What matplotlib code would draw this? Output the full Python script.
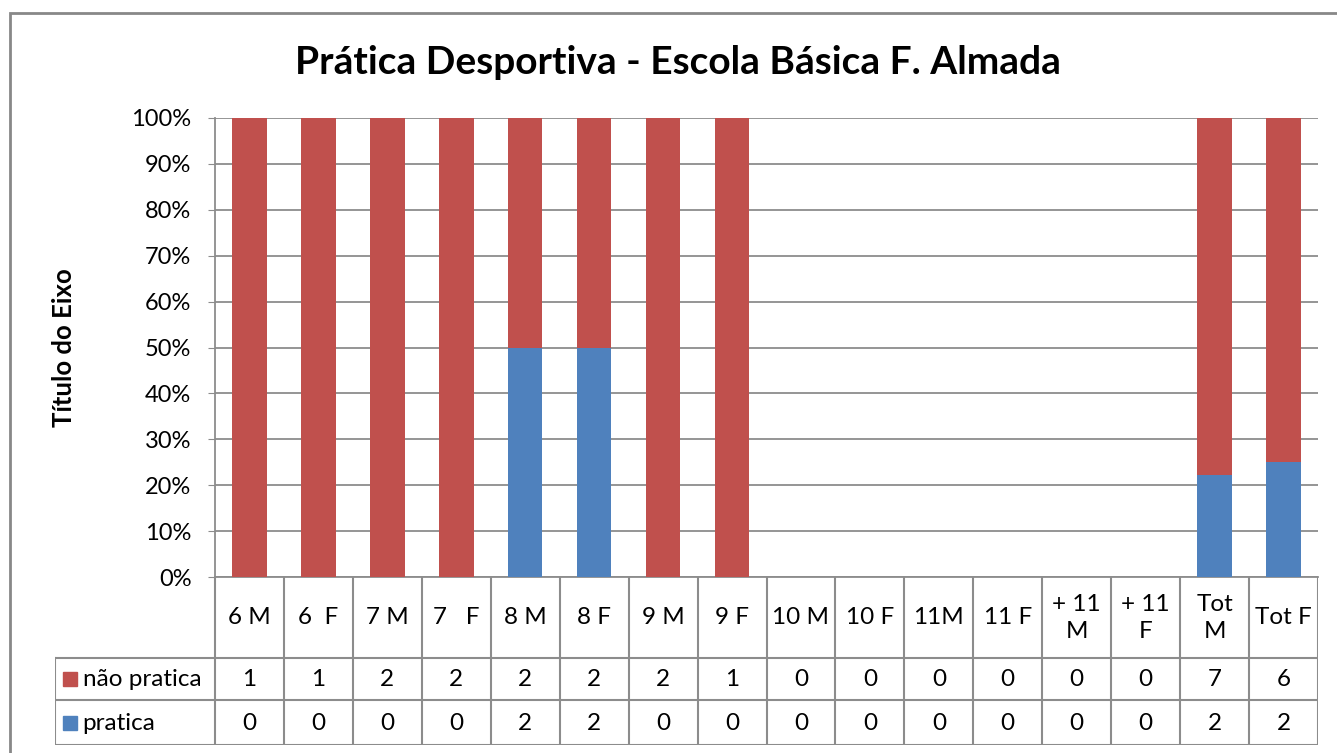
import numpy as np
import matplotlib
matplotlib.use("Agg")
from matplotlib import pyplot as plt
from matplotlib.patches import Rectangle

plt.rcParams['font.family'] = ['Lato', 'DejaVu Sans']

categories = ["6 M", "6  F", "7 M", "7   F", "8 M", "8 F", "9 M", "9 F",
              "10 M", "10 F", "11M", "11 F", "+ 11\nM", "+ 11\nF", "Tot\nM", "Tot F"]
nao_pratica = np.array([1, 1, 2, 2, 2, 2, 2, 1, 0, 0, 0, 0, 0, 0, 7, 6])
pratica = np.array([0, 0, 0, 0, 2, 2, 0, 0, 0, 0, 0, 0, 0, 0, 2, 2])
yticks = np.arange(0, 101, 10)

red = '#C0504D'
blue = '#4F81BD'
grid_c = '#8C8C8C'

W, H = 1337, 753
fig = plt.figure(figsize=(W / 100, H / 100), dpi=100)

def fx(px):
    return px / W

def fy(py):
    return 1 - py / H

# outer chart frame
fig.patches.append(Rectangle((fx(10), fy(800)), fx(1400), fy(13) - fy(800),
                             transform=fig.transFigure, fill=False,
                             edgecolor='#888888', lw=2))

# percentages for the 100% stacked bars
total = nao_pratica + pratica
with np.errstate(invalid='ignore', divide='ignore'):
    p_pct = np.where(total > 0, pratica / total * 100, np.nan)
    n_pct = np.where(total > 0, nao_pratica / total * 100, np.nan)

x = np.arange(len(categories))
left, right, top, bottom = 215, 1318, 118, 577
ax = fig.add_axes([fx(left), fy(bottom), fx(right - left), fy(top) - fy(bottom)])
ax.bar(x, p_pct, width=0.5, color=blue, zorder=3)
ax.bar(x, n_pct, width=0.5, bottom=p_pct, color=red, zorder=3)
ax.set_xlim(-0.5, len(categories) - 0.5)
ax.set_ylim(0, 100)
ax.set_yticks(yticks)
ax.set_yticklabels([f"{v}%" for v in yticks], fontsize=17)
ax.yaxis.grid(True, color=grid_c, lw=1.3, zorder=0)
ax.set_xticks([])
ax.tick_params(axis='y', length=5, color=grid_c, pad=12)
for s in ['top', 'right']:
    ax.spines[s].set_visible(False)
for s in ['left', 'bottom']:
    ax.spines[s].set_color(grid_c)
    ax.spines[s].set_linewidth(1.3)
ax.set_ylabel("Título do Eixo", fontsize=18.5, fontweight='bold')
ax.yaxis.set_label_coords((76 - left) / (right - left), 0.5)

fig.text(fx(678), fy(62), "Prática Desportiva - Escola Básica F. Almada",
         ha='center', va='center', fontsize=28, fontweight='bold')

# data table under the plot
leg_left = 55
cat_w = (right - left) / len(categories)
tx0 = -0.5 - (left - leg_left) / cat_w
tax = fig.add_axes([fx(leg_left), fy(745), fx(right - leg_left), fy(577) - fy(745)])
tax.set_xlim(tx0, len(categories) - 0.5)
tax.set_ylim(0, 168)
tax.axis('off')
lc = dict(color=grid_c, lw=1.5)
edges = np.arange(len(categories) + 1) - 0.5
for e in edges:
    tax.plot([e, e], [0, 168], **lc)
tax.plot([tx0, tx0], [0, 87], **lc)
for yy in [0, 45, 87]:
    tax.plot([tx0, edges[-1]], [yy, yy], **lc)

fs = 17.5
for i, lab in enumerate(categories):
    tax.text(i, 127, lab, ha='center', va='center', fontsize=fs, linespacing=1.35)
    tax.text(i, 66, str(nao_pratica[i]), ha='center', va='center', fontsize=fs)
    tax.text(i, 22, str(pratica[i]), ha='center', va='center', fontsize=fs)

for yy, name, col in [(66, "não pratica", red), (22, "pratica", blue)]:
    tax.plot([tx0 + 0.22], [yy], marker='s', ms=10, color=col, ls='none')
    tax.text(tx0 + 0.4, yy, name, ha='left', va='center', fontsize=fs)

fig.savefig("out.png", dpi=100)
